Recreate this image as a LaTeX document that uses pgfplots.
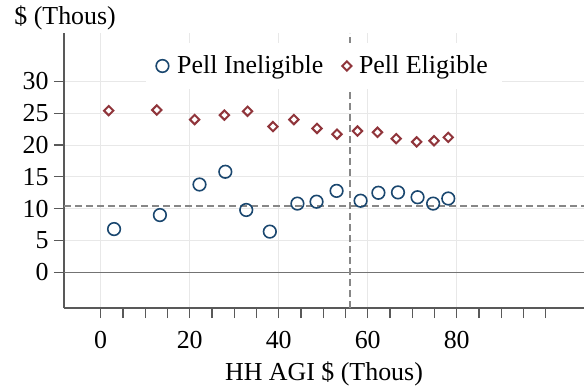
\documentclass[border=0pt]{standalone}
\usepackage{pgfplots}
\pgfplotsset{compat=1.18}
\usepackage{fontspec}
\setmainfont{Liberation Serif}
\definecolor{navy}{HTML}{1A476F}
\definecolor{maroon}{HTML}{90353B}
\pgfplotsset{mylegend/.style={legend image code/.code={\draw[##1] plot coordinates {(0bp,0bp)}; \path (#1,0bp);}}}
\begin{document}
\fontsize{13}{15}\selectfont
\begin{tikzpicture}
\begin{axis}[
  scale only axis, width=260bp, height=137.5bp,
  xmin=-8.25, xmax=108.6, ymin=-5.6, ymax=37.6,
  axis x line*=bottom, axis y line*=left,
  axis line style={color=black!65, line width=0.6bp},
  xtick={0,20,40,60,80},
  minor xtick={5,10,15,25,30,35,45,50,55,65,70,75,85,90,95,100},
  ytick={0,5,10,15,20,25,30},
  tick align=outside, major tick length=5bp, minor tick length=5bp,
  every tick/.style={color=black!65, line width=0.6bp},
  xmajorgrids, ymajorgrids,
  major grid style={color=black!9, line width=0.5bp},
  /pgf/number format/assume math mode=true,
  tick label style={font=\fontsize{13}{15}\selectfont},
  xticklabel style={yshift=-2.2bp},
  yticklabel style={anchor=east, inner sep=0pt, xshift=-2.5bp},
  every axis x label/.style={at={(rel axis cs:0.5,0)}, anchor=base, yshift=-36bp, inner sep=0pt, font=\fontsize{13}{15}\selectfont},
  every axis y label/.style={at={(rel axis cs:0,1)}, anchor=base west, xshift=-25bp, yshift=4bp, inner sep=0pt, font=\fontsize{13}{15}\selectfont},
  xlabel={HH AGI \$ (Thous)},
  ylabel={\$ (Thous)},
  legend columns=2,
  legend style={at={(rel axis cs:0.5,0.88)}, anchor=center, draw=none, fill=white,
    inner xsep=5bp, inner ysep=4bp, font=\fontsize{13}{15}\selectfont,
    /tikz/every even column/.append style={column sep=7.5bp}},
]
\coordinate (sw) at (rel axis cs:0,0);
\coordinate (ne) at (rel axis cs:1,1);
\addplot[forget plot, color=black!55, line width=0.8bp] coordinates {(-8.25,0) (108.6,0)};
\addplot[forget plot, color=black!47, line width=1bp, dash pattern=on 3.5bp off 2bp] coordinates {(-8.25,10.5) (108.6,10.5)};
\addplot[forget plot, color=black!47, line width=1bp, dash pattern=on 3.5bp off 2bp] coordinates {(56,-5.6) (56,37.6)};
\addplot[only marks, mark=o, mark size=3.15bp, color=navy, line width=0.8bp, mylegend=5bp]
  coordinates {
  (3.0,6.8) (13.3,9.0) (22.2,13.8) (28.0,15.8) (32.7,9.8) (38.0,6.4)
  (44.2,10.8) (48.5,11.1) (53.0,12.8) (58.4,11.25) (62.4,12.5) (66.8,12.56)
  (71.2,11.8) (74.7,10.8) (78.1,11.6)};
\addlegendentry{Pell Ineligible}
\addplot[only marks, mark=square, mark size=1.65bp, mark options={rotate=45}, color=maroon, line width=1bp, mylegend=3.6bp]
  coordinates {
  (1.8,25.4) (12.6,25.5) (21.1,24.0) (27.8,24.7) (33.0,25.3) (38.7,22.9)
  (43.4,24.0) (48.6,22.6) (53.1,21.7) (57.7,22.2) (62.2,22.0) (66.4,21.0)
  (71.0,20.5) (74.9,20.67) (78.1,21.2)};
\addlegendentry{Pell Eligible}
\end{axis}
\pgfresetboundingbox
\path[use as bounding box] ([shift={(-32bp,-41bp)}]sw) rectangle ([shift={(0bp,16.5bp)}]ne);
\end{tikzpicture}
\end{document}
